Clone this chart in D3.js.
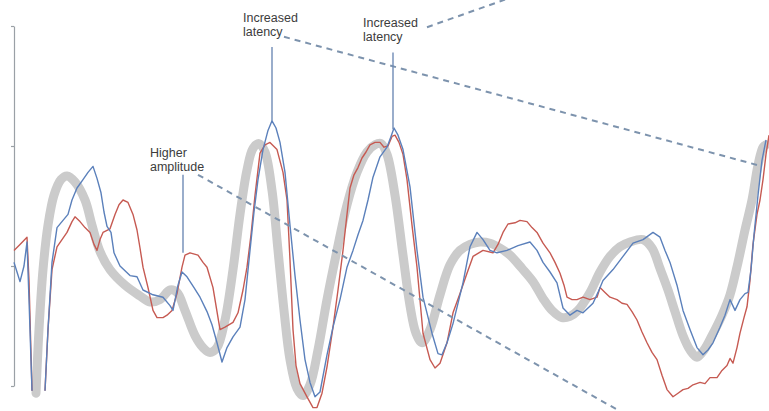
<!DOCTYPE html>
<html>
<head>
<meta charset="utf-8">
<script src="https://cdn.jsdelivr.net/npm/d3@7/dist/d3.min.js"></script>
<style>
  html, body { margin: 0; padding: 0; background: #fff; }
  svg { display: block; }
  text { font-family: "Liberation Sans", Arial, sans-serif; }
</style>
</head>
<body>
<svg id="chart" width="769" height="411"></svg>
<script>
// Time in ms, amplitude in µV; null marks a stretch where the trace runs off scale
const referenceWave = [
  [22,-10.6],[25,-5.3],[29,-0.3],[34,3.4],[40,5.9],[47,7.2],[53,7.5],[61,7.0],[71,5.5],[78,3.4],
  [86,1.2],[96,-0.3],[111,-1.6],[126,-2.5],[136,-3.0],[146,-2.8],[156,-2.0],[163,-2.2],[171,-3.7],
  [181,-5.8],[189,-6.8],[196,-7.2],[203,-6.8],[211,-4.5],[219,-0.3],[226,4.3],[233,8.0],[239,9.8],
  [245,10.2],[251,9.5],[258,6.3],[264,1.3],[270,-3.7],[276,-7.8],[283,-10.2],[289,-10.8],[296,-9.9],
  [304,-7.0],[313,-2.8],[323,1.3],[333,5.1],[343,7.8],[353,9.5],[361,10.1],[367,10.2],[373,9.3],
  [381,5.9],[389,0.9],[396,-3.3],[402,-5.6],[408,-6.4],[416,-5.3],[426,-2.4],[436,0.1],[446,1.3],
  [456,1.8],[466,2.0],[476,1.9],[486,1.5],[496,0.9],[508,-0.2],[519,-1.3],[529,-2.7],[538,-3.7],
  [548,-4.3],[556,-4.2],[564,-3.7],[576,-2.2],[586,-0.5],[596,0.8],[606,1.6],[616,2.0],[629,2.2],
  [638,1.5],[646,-0.2],[654,-2.0],[661,-3.8],[669,-5.8],[676,-7.0],[683,-7.6],[690,-7.0],[698,-5.8],
  [708,-4.1],[716,-2.4],[724,0.3],[731,3.0],[738,5.5],[744,8.4],[749,9.9],[752,10.1]
];

const blueWave = [
  [0,0.3],[3,-0.5],[6,-1.3],[10,0.0],[13,2.0],[15,-2.8],[18,-10.4],[18,null],[31,null],[31,-10.4],[34,-5.3],[38,0.3],
  [43,3.2],[49,3.8],[54,4.3],[58,5.5],[63,6.5],[69,7.2],[74,7.8],[79,8.3],[83,7.3],[87,6.1],[90,4.5],
  [93,3.3],[97,2.8],[100,1.1],[106,0.0],[116,-0.8],[123,-0.9],[129,-2.0],[139,-2.4],[149,-2.6],
  [156,-3.3],[159,-3.7],[164,-1.6],[168,-0.5],[173,-0.9],[180,-1.8],[186,-2.6],[193,-3.8],[198,-4.9],
  [203,-6.4],[208,-8.0],[213,-6.8],[219,-5.9],[226,-5.1],[231,-2.8],[236,1.3],[240,4.5],[244,7.2],
  [249,9.7],[254,11.3],[258,12.1],[262,11.5],[266,10.3],[271,7.8],[276,3.4],[281,-0.8],[286,-4.5],
  [291,-7.8],[296,-9.7],[301,-10.9],[306,-10.5],[313,-7.4],[319,-5.1],[326,-2.8],[333,-0.1],[339,1.3],
  [344,2.6],[349,3.8],[354,5.5],[359,7.4],[366,9.1],[373,9.9],[377,10.8],[380,11.5],[384,10.9],
  [389,9.7],[396,6.6],[403,1.3],[409,-2.6],[418,-5.6],[424,-7.3],[428,-7.4],[433,-6.4],[439,-4.8],
  [449,-1.4],[456,1.6],[463,2.8],[469,2.2],[476,1.3],[483,1.1],[493,1.3],[504,1.7],[516,2.0],
  [523,1.3],[529,0.3],[536,-0.5],[543,-1.4],[549,-3.5],[556,-4.1],[563,-3.7],[569,-3.9],[574,-3.5],
  [579,-3.1],[584,-2.2],[589,-1.2],[599,-0.3],[609,0.8],[619,1.9],[629,2.2],[639,2.8],[646,2.4],
  [651,1.3],[656,0.3],[663,-1.6],[669,-3.7],[676,-5.3],[683,-6.8],[689,-7.4],[694,-7.0],[699,-6.4],
  [706,-5.1],[711,-4.1],[716,-2.8],[721,-3.7],[726,-2.8],[731,-2.3],[734,-2.2],[737,-0.3],[740,2.6],
  [744,5.9],[748,8.8],[752,10.5]
];

const redWave = [
  [0,1.3],[6,1.8],[13,2.4],[15,-1.2],[18,-10.4],[18,null],[31,null],[31,-10.4],[34,-5.3],[38,-0.3],[43,1.6],[48,2.2],
  [53,2.8],[58,3.7],[61,4.1],[66,3.7],[71,3.2],[76,2.8],[80,1.8],[83,1.3],[86,2.2],[89,2.8],[96,3.1],
  [101,4.3],[105,5.1],[109,5.5],[114,5.3],[119,4.3],[123,3.0],[126,1.5],[129,-0.1],[134,-1.8],
  [139,-3.7],[143,-4.3],[149,-4.3],[153,-4.1],[158,-3.7],[163,-2.3],[168,-0.1],[171,0.9],[176,1.1],
  [184,0.9],[189,0.3],[193,-0.1],[199,-1.8],[206,-5.3],[211,-5.1],[219,-4.7],[224,-3.9],[229,-2.0],
  [233,-0.1],[237,2.6],[241,5.9],[246,9.4],[251,10.1],[256,10.3],[263,9.7],[269,7.8],[273,5.5],
  [276,0.5],[279,-5.3],[282,-8.3],[286,-9.8],[293,-10.9],[299,-11.8],[303,-11.8],[308,-10.6],
  [313,-8.4],[319,-5.1],[324,-2.0],[329,1.3],[333,4.3],[336,6.5],[340,7.6],[344,8.2],[348,9.0],
  [352,9.5],[356,10.1],[361,10.3],[366,10.3],[370,9.9],[374,10.0],[378,10.8],[381,10.9],[385,10.3],
  [389,9.3],[393,7.2],[398,3.4],[403,-0.1],[409,-5.6],[416,-7.8],[421,-8.5],[426,-8.1],[433,-6.4],
  [439,-3.9],[446,-2.3],[453,-0.6],[459,0.8],[469,1.3],[479,1.1],[484,1.8],[489,2.8],[494,3.5],
  [501,3.6],[506,3.8],[513,3.7],[518,3.2],[523,2.8],[529,1.9],[536,1.1],[541,0.3],[546,-0.6],
  [550,-1.6],[553,-2.6],[558,-2.8],[563,-2.8],[569,-2.6],[576,-2.8],[583,-2.6],[586,-1.8],[591,-2.2],
  [596,-2.6],[603,-2.8],[608,-3.1],[613,-3.2],[618,-3.8],[623,-4.5],[628,-5.5],[633,-6.4],[638,-7.2],
  [643,-7.8],[648,-9.1],[653,-10.3],[659,-10.9],[664,-10.6],[669,-10.3],[674,-10.2],[679,-9.9],
  [686,-9.7],[691,-9.8],[696,-9.3],[703,-9.3],[708,-8.7],[713,-8.3],[716,-7.7],[719,-8.1],[723,-6.8],
  [726,-5.6],[730,-4.3],[733,-3.4],[736,-1.2],[739,1.8],[743,4.3],[746,5.5],[749,7.2],[752,9.3],
  [755,10.9]
];

const yTickValues = [-10, 0, 10, 20];

// Callout labels: text lines, label anchor, leader line (vertical) to the marked peak
const calloutLines = [["Higher", "amplitude"], ["Increased", "latency"], ["Increased", "latency"]];
const calloutAnchors = [[136, 9.1], [229, 20.3], [349, 19.9]];
const calloutLeaders = [[169, 7.6, 1.1], [258, 18.25, 12.1], [379, 17.8, 11.4]];

// Dashed guide lines leading away from the callouts
const guideLines = [
  [[184, 7.6], [606, -12.1]],
  [[270, 19.1], [744, 8.4]],
  [[413, 19.9], [491, 22.2]]
];

const svg = d3.select("#chart");
const W = 769, H = 411;

const x = d3.scaleLinear().domain([0, 755]).range([14, 769]);
const y = d3.scaleLinear().domain([-10, 20]).range([386, 26]);

svg.append("rect").attr("width", W).attr("height", H).attr("fill", "#fff");

// Left axis: bare line with short ticks
const axis = svg.append("g")
  .attr("transform", `translate(${x(0)},0)`)
  .call(d3.axisLeft(y).tickValues(yTickValues).tickSize(3).tickSizeOuter(0).tickFormat(""));
axis.select(".domain").attr("stroke", "#9aa0a6").attr("stroke-width", 1.2);
axis.selectAll(".tick line").attr("stroke", "#9aa0a6").attr("stroke-width", 1.2);

const lineSmooth = d3.line().x(d => x(d[0])).y(d => y(d[1])).curve(d3.curveCatmullRom.alpha(0.5));
const lineRaw = d3.line().defined(d => d[1] !== null).x(d => x(d[0])).y(d => y(d[1]));

svg.append("path").datum(referenceWave)
  .attr("d", lineSmooth).attr("fill", "none")
  .attr("stroke", "#cbcbcb").attr("stroke-width", 9)
  .attr("stroke-linecap", "round").attr("stroke-linejoin", "round");

svg.append("path").datum(redWave)
  .attr("d", lineRaw).attr("fill", "none")
  .attr("stroke", "#c65a52").attr("stroke-width", 1.4)
  .attr("stroke-linejoin", "round");

svg.append("path").datum(blueWave)
  .attr("d", lineRaw).attr("fill", "none")
  .attr("stroke", "#5b80bb").attr("stroke-width", 1.4)
  .attr("stroke-linejoin", "round");

// Guides
svg.append("g").selectAll("path").data(guideLines).join("path")
  .attr("d", lineRaw).attr("fill", "none")
  .attr("stroke", "#7d93ad").attr("stroke-width", 2)
  .attr("stroke-dasharray", "6,5");

// Leaders
svg.append("g").selectAll("line").data(calloutLeaders).join("line")
  .attr("x1", d => x(d[0])).attr("x2", d => x(d[0]))
  .attr("y1", d => y(d[1])).attr("y2", d => y(d[2]))
  .attr("stroke", "#6f8bb6").attr("stroke-width", 1.4);

// Callout text
const labels = svg.append("g").selectAll("text").data(calloutLines).join("text")
  .attr("x", (d, i) => x(calloutAnchors[i][0]))
  .attr("y", (d, i) => y(calloutAnchors[i][1]))
  .attr("font-size", 12.5)
  .attr("fill", "#3c3c3c");
labels.selectAll("tspan").data(d => d).join("tspan")
  .attr("x", function() { return d3.select(this.parentNode).attr("x"); })
  .attr("dy", (d, i) => i === 0 ? 0 : 14)
  .text(d => d);
</script>
</body>
</html>
